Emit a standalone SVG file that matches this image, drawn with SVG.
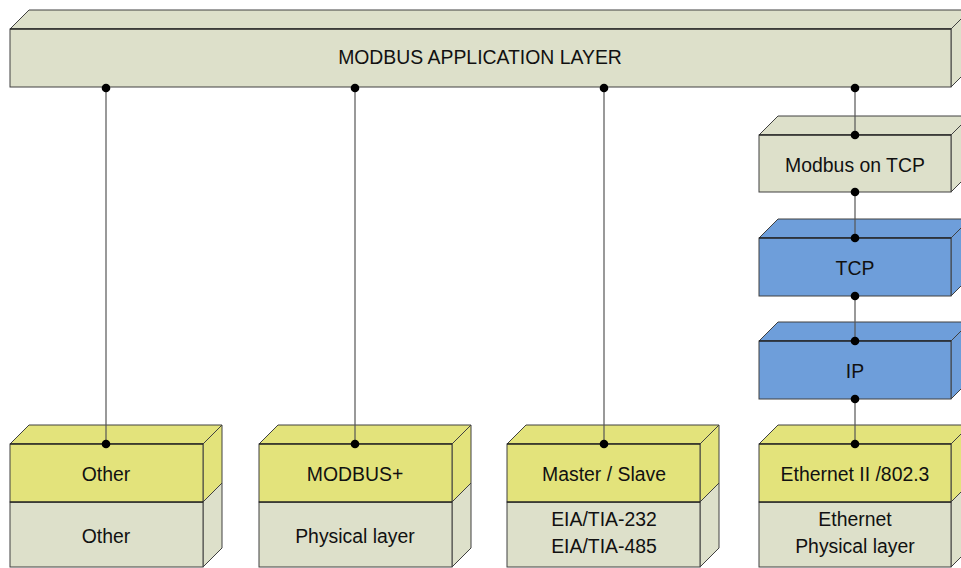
<svg xmlns="http://www.w3.org/2000/svg" width="961" height="568" viewBox="0 0 961 568">
<style>
.g{fill:#DDE0CA;stroke:#404040;stroke-width:1}
.y{fill:#E3E37B;stroke:#404040;stroke-width:1}
.b{fill:#6E9EDA;stroke:#404040;stroke-width:1}
.e{fill:none;stroke:#111;stroke-width:1.2}
.t{font-family:"Liberation Sans",Arial,sans-serif;font-size:19.4px;fill:#111;text-anchor:middle}
.c line{stroke:#555;stroke-width:1.2}
.c circle{fill:#000}
</style>
<rect width="961" height="568" fill="#fff"/>
<g id="app">
<polygon class="g" points="10,29 29,10 970,10 951,29"/>
<polygon class="g" points="951,29 970,10 970,68 951,87"/>
<rect class="g" x="10" y="29" width="941" height="58"/>
<line class="e" x1="10" y1="29" x2="951" y2="29"/>
<text class="t" x="480" y="64">MODBUS APPLICATION LAYER</text>
</g>
<g id="mtcp">
<polygon class="g" points="759,135 778,116 970,116 951,135"/>
<polygon class="g" points="951,135 970,116 970,173 951,192"/>
<rect class="g" x="759" y="135" width="192" height="57"/>
<line class="e" x1="759" y1="135" x2="951" y2="135"/>
<text class="t" x="855" y="172">Modbus on TCP</text>
</g>
<g id="tcp">
<polygon class="b" points="759,238 778,219 970,219 951,238"/>
<polygon class="b" points="951,238 970,219 970,277 951,296"/>
<rect class="b" x="759" y="238" width="192" height="58"/>
<line class="e" x1="759" y1="238" x2="951" y2="238"/>
<text class="t" x="855" y="275">TCP</text>
</g>
<g id="ip">
<polygon class="b" points="759,341 778,322 970,322 951,341"/>
<polygon class="b" points="951,341 970,322 970,380 951,399"/>
<rect class="b" x="759" y="341" width="192" height="58"/>
<line class="e" x1="759" y1="341" x2="951" y2="341"/>
<text class="t" x="855" y="378">IP</text>
</g>
<g id="other-phys">
<polygon class="g" points="203,502 222,483 222,548 203,567"/>
<rect class="g" x="10" y="502" width="193" height="65"/>
<text class="t" x="106" y="543">Other</text>
</g>
<g id="other">
<polygon class="y" points="10,444 29,425 222,425 203,444"/>
<polygon class="y" points="203,444 222,425 222,483 203,502"/>
<rect class="y" x="10" y="444" width="193" height="58"/>
<line class="e" x1="10" y1="444" x2="203" y2="444"/>
<line class="e" x1="10" y1="502" x2="203" y2="502"/>
<text class="t" x="106" y="481">Other</text>
</g>
<g id="plus-phys">
<polygon class="g" points="452,502 471,483 471,548 452,567"/>
<rect class="g" x="259" y="502" width="193" height="65"/>
<text class="t" x="355" y="543">Physical layer</text>
</g>
<g id="plus">
<polygon class="y" points="259,444 278,425 471,425 452,444"/>
<polygon class="y" points="452,444 471,425 471,483 452,502"/>
<rect class="y" x="259" y="444" width="193" height="58"/>
<line class="e" x1="259" y1="444" x2="452" y2="444"/>
<line class="e" x1="259" y1="502" x2="452" y2="502"/>
<text class="t" x="355" y="481">MODBUS+</text>
</g>
<g id="ms-phys">
<polygon class="g" points="700,502 719,483 719,548 700,567"/>
<rect class="g" x="507" y="502" width="193" height="65"/>
<text class="t" x="604" y="526">EIA/TIA-232</text>
<text class="t" x="604" y="553">EIA/TIA-485</text>
</g>
<g id="ms">
<polygon class="y" points="507,444 526,425 719,425 700,444"/>
<polygon class="y" points="700,444 719,425 719,483 700,502"/>
<rect class="y" x="507" y="444" width="193" height="58"/>
<line class="e" x1="507" y1="444" x2="700" y2="444"/>
<line class="e" x1="507" y1="502" x2="700" y2="502"/>
<text class="t" x="604" y="481">Master / Slave</text>
</g>
<g id="eth-phys">
<polygon class="g" points="951,502 970,483 970,548 951,567"/>
<rect class="g" x="759" y="502" width="192" height="65"/>
<text class="t" x="855" y="526">Ethernet</text>
<text class="t" x="855" y="553">Physical layer</text>
</g>
<g id="eth">
<polygon class="y" points="759,444 778,425 970,425 951,444"/>
<polygon class="y" points="951,444 970,425 970,483 951,502"/>
<rect class="y" x="759" y="444" width="192" height="58"/>
<line class="e" x1="759" y1="444" x2="951" y2="444"/>
<line class="e" x1="759" y1="502" x2="951" y2="502"/>
<text class="t" x="855" y="481">Ethernet II /802.3</text>
</g>
<g id="connectors" class="c">
<line x1="106" y1="88" x2="106" y2="444"/>
<line x1="355" y1="88" x2="355" y2="444"/>
<line x1="604" y1="88" x2="604" y2="444"/>
<line x1="855" y1="88" x2="855" y2="135"/>
<line x1="855" y1="192" x2="855" y2="238"/>
<line x1="855" y1="296" x2="855" y2="341"/>
<line x1="855" y1="399" x2="855" y2="444"/>
<circle cx="106" cy="88" r="4.3"/><circle cx="106" cy="444" r="4.3"/>
<circle cx="355" cy="88" r="4.3"/><circle cx="355" cy="444" r="4.3"/>
<circle cx="604" cy="88" r="4.3"/><circle cx="604" cy="444" r="4.3"/>
<circle cx="855" cy="88" r="4.3"/><circle cx="855" cy="135" r="4.3"/>
<circle cx="855" cy="192" r="4.3"/><circle cx="855" cy="238" r="4.3"/>
<circle cx="855" cy="296" r="4.3"/><circle cx="855" cy="341" r="4.3"/>
<circle cx="855" cy="399" r="4.3"/><circle cx="855" cy="444" r="4.3"/>
</g>
</svg>
